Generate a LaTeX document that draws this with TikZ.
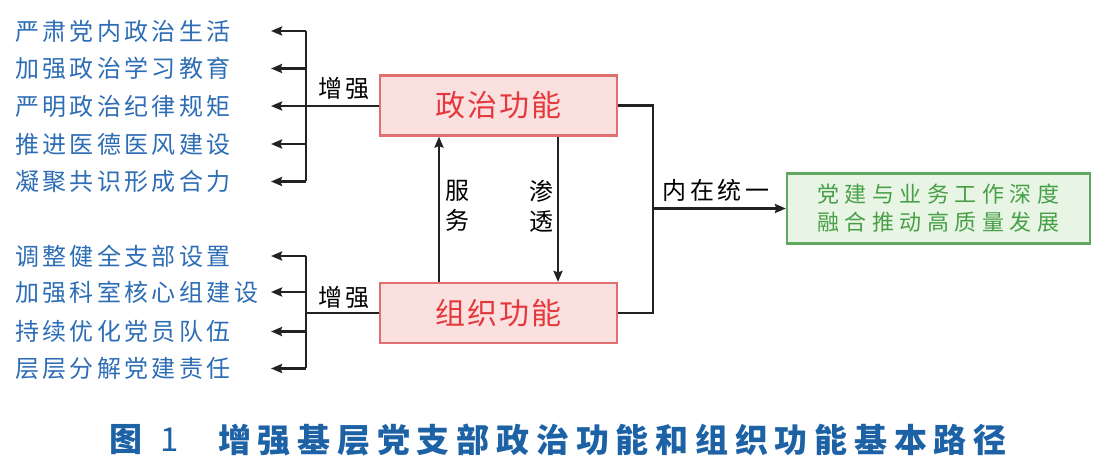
\documentclass[tikz,border=0pt]{standalone}
\usepackage{fontspec}
\setmainfont{Noto Sans CJK SC}
\newfontfamily\cjk{Noto Sans CJK SC}
\usetikzlibrary{arrows.meta}
\definecolor{itemblue}{HTML}{2D6DB5}
\definecolor{capblue}{HTML}{1E62A6}
\definecolor{pinkfill}{HTML}{FBE0E0}
\definecolor{pinkdraw}{HTML}{E07070}
\definecolor{redtext}{HTML}{E5383D}
\definecolor{greenfill}{HTML}{E8F4E4}
\definecolor{greendraw}{HTML}{5FA860}
\definecolor{greentext}{HTML}{47A047}
\definecolor{linec}{HTML}{222222}
\begin{document}
\begin{tikzpicture}[x=1bp,y=-1bp,
  item/.style={anchor=west,inner sep=0pt,text=itemblue,font=\fontsize{24bp}{28bp}\selectfont\addfontfeature{LetterSpace=14}},
  lab/.style={inner sep=0pt,text=black,font=\fontsize{24bp}{30bp}\selectfont\addfontfeature{LetterSpace=16}},
  funcbox/.style={draw=pinkdraw,fill=pinkfill,line width=2.2bp,minimum width=237bp,minimum height=60bp,inner sep=0pt,text=redtext,font=\fontsize{30bp}{34bp}\selectfont\addfontfeature{LetterSpace=7}},
  goalbox/.style={draw=greendraw,fill=greenfill,line width=2.2bp,minimum width=303bp,minimum height=70bp,inner sep=0pt,align=center,text=greentext,font=\fontsize{22bp}{28bp}\selectfont\addfontfeature{LetterSpace=25}},
  conn/.style={draw=linec,line width=2.5bp},
  arr/.style={conn,-{Stealth[length=11bp,width=9bp,inset=1.5bp]}}
]
\useasboundingbox (0,0) rectangle (1108,472);

% function boxes
\node[funcbox] (pol) at (498.5,105.5) {政治功能};
\node[funcbox] (org) at (498.5,313) {组织功能};
\node[goalbox] (goal) at (938.5,208.5) {党建与业务工作深度\\融合推动高质量发展};

% top list
\node[item] (t1) at (15,31) {严肃党内政治生活};
\node[item] (t2) at (15,68.5) {加强政治学习教育};
\node[item] (t3) at (15,106) {严明政治纪律规矩};
\node[item] (t4) at (15,144) {推进医德医风建设};
\node[item] (t5) at (15,181.5) {凝聚共识形成合力};

% bottom list
\node[item] (b1) at (15,256) {调整健全支部设置};
\node[item] (b2) at (15,292) {加强科室核心组建设};
\node[item] (b3) at (15,331.5) {持续优化党员队伍};
\node[item] (b4) at (15,368.5) {层层分解党建责任};

% top bracket
\coordinate (tj) at (306,106);
\coordinate (tt) at (306,31);
\coordinate (tb) at (306,181.5);
\coordinate (a1) at (271,31);
\coordinate (a2) at (271,68.5);
\coordinate (a3) at (271,106);
\coordinate (a4) at (271,144);
\coordinate (a5) at (271,181.5);
\draw[conn] (tt) -- (tb);
\draw[conn] (pol.west |- tj) -- (tj);
\draw[arr] (tt) -- (a1);
\draw[arr] (306,68.5) -- (a2);
\draw[arr] (tj) -- (a3);
\draw[arr] (306,144) -- (a4);
\draw[arr] (tb) -- (a5);
\node[lab] (l1) at (344,88) {增强};

% bottom bracket
\coordinate (bj) at (306,313);
\coordinate (bt) at (306,256);
\coordinate (bb) at (306,368.5);
\coordinate (c1) at (271,256);
\coordinate (c2) at (271,292);
\coordinate (c3) at (271,331.5);
\coordinate (c4) at (271,368.5);
\draw[conn] (bt) -- (bb);
\draw[conn] (org.west) -- (bj);
\draw[arr] (bt) -- (c1);
\draw[arr] (306,292) -- (c2);
\draw[arr] (306,331.5) -- (c3);
\draw[arr] (bb) -- (c4);
\node[lab] (l2) at (344,297) {增强};

% between boxes
\draw[arr] (org.north -| 439,0) -- (pol.south -| 439,0);
\draw[arr] (pol.south -| 558,0) -- (org.north -| 558,0);
\node[lab,align=center,font=\fontsize{24bp}{30bp}\selectfont] (l3) at (457,206) {服\\务};
\node[lab,align=center,font=\fontsize{24bp}{30bp}\selectfont] (l4) at (541,206) {渗\\透};

% right connector
\coordinate (rt) at (653,105.5);
\coordinate (rb) at (653,313);
\coordinate (rm) at (653,208.5);
\draw[conn] (pol.east) -- (rt) -- (rb) -- (org.east);
\draw[arr] (rm) -- (goal.west);
\node[lab,anchor=west] (l5) at (662,190) {内在统一};

% caption
\node[anchor=west,inner sep=0pt,text=capblue,font=\fontsize{33bp}{36bp}\selectfont\bfseries] (cap1) at (109,440) {图};
\node[anchor=west,inner sep=0pt,text=capblue,font=\fontsize{33bp}{36bp}\selectfont] (cap2) at (160,440) {1};
\node[anchor=west,inner sep=0pt,text=capblue,font=\fontsize{33bp}{36bp}\selectfont\bfseries\addfontfeature{LetterSpace=20.5}] (cap3) at (218,440) {增强基层党支部政治功能和组织功能基本路径};
\end{tikzpicture}
\end{document}
